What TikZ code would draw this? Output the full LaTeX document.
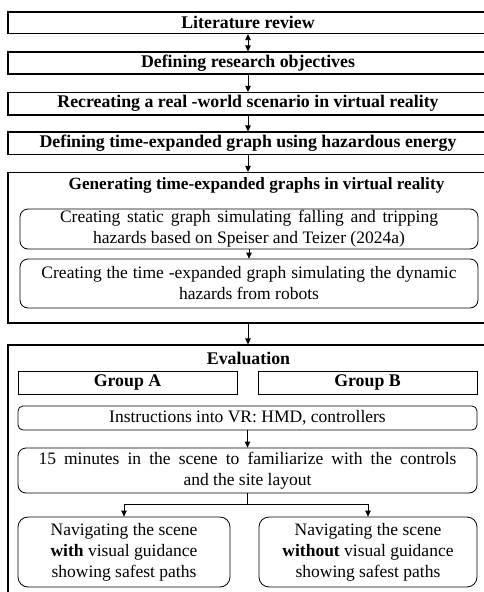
\documentclass[tikz,border=0pt]{standalone}
\usepackage{fontspec}
\setmainfont{Liberation Serif}
\usetikzlibrary{arrows.meta}
\begin{document}
\begin{tikzpicture}[x=1pt,y=-1pt,
  every node/.style={font=\fontsize{17.5}{21}\selectfont, inner sep=0pt, align=center},
  topbox/.style={draw, line width=1.1pt, minimum width=480pt, font=\fontsize{17.8}{21}\selectfont\bfseries},
  outerbox/.style={draw, line width=1.1pt, minimum width=480pt},
  rbox/.style={draw, line width=0.8pt, rounded corners=8pt},
  gbox/.style={draw, line width=0.8pt, font=\fontsize{17.8}{21}\selectfont\bfseries},
  arr/.style={line width=0.8pt, -{Triangle[length=6pt,width=5.5pt]}},
  darr/.style={line width=0.8pt, {Triangle[length=6pt,width=5.5pt]}-{Triangle[length=6pt,width=5.5pt]}},
]
\useasboundingbox (0,0) rectangle (484,592);
\clip (0,0) rectangle (484,592);
% top boxes
\node[topbox, minimum height=21.5pt] (b1) at (248,22.75) {Literature review};
\node[topbox, minimum height=22pt] (b2) at (248,63) {Defining research objectives};
\node[topbox, minimum height=22.5pt] (b3) at (248,103.75) {Recreating a real -world scenario in virtual reality};
\node[topbox, minimum height=22.5pt] (b4) at (248,143.25) {Defining time-expanded graph using hazardous energy};
% generating box
\node[outerbox, minimum height=150.5pt] (b5) at (248,247.75) {};
\node[font=\fontsize{17.2}{21}\selectfont\bfseries] (t5) at (256.5,185) {Generating time-expanded graphs in virtual reality};
\node[rbox, minimum width=458pt, minimum height=40pt] (i1) at (249,229)
  {\makebox[378pt][s]{Creating static graph simulating falling and tripping}\\hazards based on Speiser and Teizer (2024a)};
\node[rbox, minimum width=458pt, minimum height=49pt] (i2) at (249,283.5)
  {\makebox[415pt][s]{Creating the time -expanded graph simulating the dynamic}\\hazards from robots};
% evaluation box
\node[outerbox, minimum height=275pt] (ev) at (248,482.5) {};
\node[font=\fontsize{17.8}{21}\selectfont\bfseries] (tev) at (248.5,358) {Evaluation};
\node[gbox, minimum width=219pt, minimum height=23pt] (ga) at (127.5,382.5) {Group A};
\node[gbox, minimum width=219pt, minimum height=23pt] (gb) at (367.5,382.5) {Group B};
\node[rbox, rounded corners=5pt, minimum width=459pt, minimum height=24pt] (ins) at (247.5,418) {Instructions into VR: HMD, controllers};
\node[rbox, minimum width=459pt, minimum height=45pt] (fif) at (247.5,470.5)
  {\makebox[418pt][s]{15 minutes in the scene to familiarize with the controls}\\and the site layout};
\node[rbox, rounded corners=10pt, minimum width=212pt, minimum height=70pt] (nl) at (124,552)
  {Navigating the scene\\\textbf{with} visual guidance\\showing safest paths};
\node[rbox, rounded corners=10pt, minimum width=218pt, minimum height=70pt] (nr) at (368,552)
  {Navigating the scene\\\textbf{without} visual guidance\\showing safest paths};
% connectors
\draw[darr] (b1.south) -- (b2.north);
\draw[arr] (b2.south) -- (b3.north);
\draw[arr] (b3.south) -- (b4.north);
\draw[arr] (b4.south) -- (b5.north);
\draw[arr] (i1.south) -- (i2.north);
\draw[arr] (b5.south) -- (ev.north);
\draw[arr] (ins.south) -- (fif.north);
\draw[line width=0.8pt] (fif.south) -- ++(0,11) coordinate (br);
\draw[arr] (br) -| (nl.north);
\draw[arr] (br) -| (nr.north);
\end{tikzpicture}
\end{document}
